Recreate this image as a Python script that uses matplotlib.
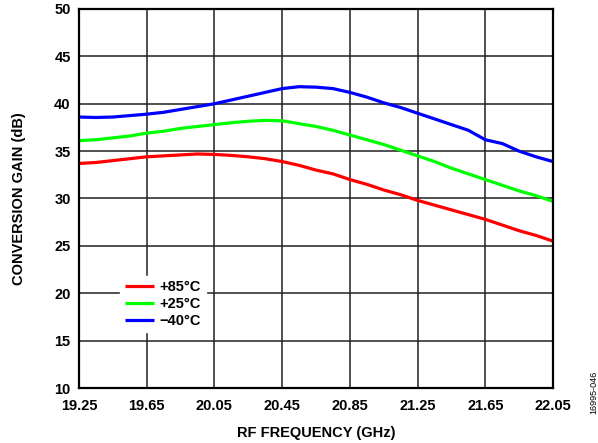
import numpy as np
import matplotlib
matplotlib.use('Agg')
import matplotlib.pyplot as plt

plt.rcParams['font.family'] = ['Liberation Sans', 'DejaVu Sans']
plt.rcParams['font.weight'] = 'bold'

# data
freq = [19.25, 19.35, 19.45, 19.55, 19.65, 19.75, 19.85, 19.95, 20.05, 20.15, 20.25,
        20.35, 20.45, 20.55, 20.65, 20.75, 20.85, 20.95, 21.05, 21.15, 21.25, 21.35,
        21.45, 21.55, 21.65, 21.75, 21.85, 21.95, 22.05]
gain_85 = [33.7, 33.8, 34.0, 34.2, 34.4, 34.5, 34.6, 34.7, 34.65, 34.55, 34.4,
           34.2, 33.9, 33.5, 33.0, 32.6, 32.0, 31.5, 30.9, 30.4, 29.8, 29.3,
           28.8, 28.3, 27.8, 27.2, 26.6, 26.1, 25.5]
gain_25 = [36.1, 36.2, 36.4, 36.6, 36.9, 37.1, 37.4, 37.6, 37.8, 38.0, 38.15,
           38.25, 38.2, 37.9, 37.6, 37.2, 36.7, 36.2, 35.7, 35.1, 34.5, 33.9,
           33.2, 32.6, 32.0, 31.4, 30.8, 30.3, 29.7]
gain_m40 = [38.6, 38.55, 38.6, 38.75, 38.9, 39.1, 39.4, 39.7, 40.0, 40.4, 40.8,
            41.2, 41.6, 41.8, 41.75, 41.6, 41.2, 40.7, 40.1, 39.6, 39.0, 38.4,
            37.8, 37.2, 36.2, 35.8, 35.0, 34.4, 33.9]
series = [('+85°C', gain_85, '#ff0000'), ('+25°C', gain_25, '#00ff00'), ('\u221240°C', gain_m40, '#0000ff')]
xticks = [19.25, 19.65, 20.05, 20.45, 20.85, 21.25, 21.65, 22.05]
yticks = [10, 15, 20, 25, 30, 35, 40, 45, 50]

fig = plt.figure(figsize=(5.98, 4.43), dpi=100)
ax = fig.add_axes([79/598, 1 - 388/443, (553 - 79)/598, (388 - 9)/443])

for label, g, c in series:
    ax.plot(freq, g, color=c, lw=2.3, label=label, solid_capstyle='butt')

ax.set_xlim(19.25, 22.05)
ax.set_ylim(10, 50)
ax.set_xticks(xticks)
ax.set_xticklabels(['%.2f' % v for v in xticks])
ax.set_yticks(yticks)
ax.tick_params(length=0, labelsize=10.5)
ax.tick_params(axis='x', pad=8)
ax.tick_params(axis='y', pad=6)
for t in ax.get_xticklabels() + ax.get_yticklabels():
    t.set_fontweight('bold')
ax.grid(True, color='#202020', lw=1.1)
ax.set_axisbelow(True)
for s in ax.spines.values():
    s.set_linewidth(1.6)
    s.set_color('black')

ax.set_xlabel('RF FREQUENCY (GHz)', fontsize=10.5, fontweight='bold', labelpad=9)
ax.set_ylabel('CONVERSION GAIN (dB)', fontsize=10.5, fontweight='bold', labelpad=20)

leg = ax.legend(loc='upper left', bbox_to_anchor=(0.072, 0.315), frameon=True,
                fancybox=False, edgecolor='white', framealpha=1,
                fontsize=10.5, handlelength=2.0, handletextpad=0.4,
                labelspacing=0.2, borderpad=0.3)
for t in leg.get_texts():
    t.set_fontweight('bold')

fig.text(594/598, 1 - 392/443, '16995-046', rotation=90, fontsize=6.5,
         fontweight='normal', ha='center', va='center')

fig.savefig('out.png', dpi=100)
